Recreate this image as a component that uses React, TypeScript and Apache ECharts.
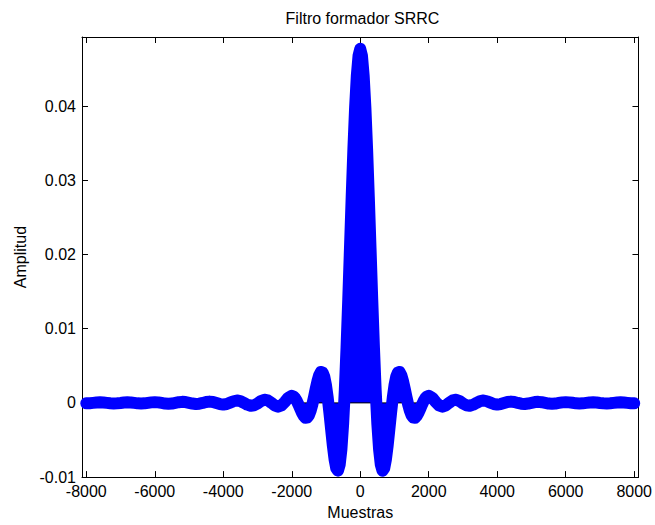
import React, { useEffect, useRef } from 'react';
import * as echarts from 'echarts';

// Sample index (x) of each read-off point of the SRRC pulse
const samples = [
  -8000, -7900, -7800, -7700, -7600, -7500, -7400, -7300, -7200, -7100,
  -7000, -6900, -6800, -6700, -6600, -6500, -6400, -6300, -6200, -6100,
  -6000, -5900, -5800, -5700, -5600, -5500, -5400, -5300, -5200, -5100,
  -5000, -4900, -4800, -4700, -4600, -4500, -4400, -4300, -4200, -4100,
  -4000, -3900, -3800, -3700, -3600, -3500, -3400, -3300, -3200, -3100,
  -3000, -2900, -2800, -2700, -2600, -2500, -2400, -2300, -2200, -2100,
  -2000, -1950, -1900, -1850, -1800, -1750, -1700, -1650, -1600, -1550,
  -1500, -1450, -1400, -1350, -1300, -1250, -1200, -1150, -1100, -1050,
  -1000, -950, -900, -850, -800, -750, -700, -650, -600, -550,
  -500, -450, -400, -350, -300, -250, -200, -150, -100, -50,
  0,
  50, 100, 150, 200, 250, 300, 350, 400, 450, 500,
  550, 600, 650, 700, 750, 800, 850, 900, 950, 1000,
  1050, 1100, 1150, 1200, 1250, 1300, 1350, 1400, 1450, 1500,
  1550, 1600, 1650, 1700, 1750, 1800, 1850, 1900, 1950, 2000,
  2100, 2200, 2300, 2400, 2500, 2600, 2700, 2800, 2900, 3000,
  3100, 3200, 3300, 3400, 3500, 3600, 3700, 3800, 3900, 4000,
  4100, 4200, 4300, 4400, 4500, 4600, 4700, 4800, 4900, 5000,
  5100, 5200, 5300, 5400, 5500, 5600, 5700, 5800, 5900, 6000,
  6100, 6200, 6300, 6400, 6500, 6600, 6700, 6800, 6900, 7000,
  7100, 7200, 7300, 7400, 7500, 7600, 7700, 7800, 7900, 8000,
];

// Amplitude at each sample index
const amplitude = [
  -0.00006, -0.00004, 0, 0.00005, 0.00007, 0.00005, 0, -0.00005, -0.00007, -0.00005,
  -0.00001, 0.00005, 0.00007, 0.00006, 0, -0.00006, -0.00008, -0.00006, 0.00001, 0.00007,
  0.0001, 0.00007, -0.00001, -0.00009, -0.00012, -0.00009, 0, 0.00009, 0.00014, 0.00011,
  0.00001, -0.00009, -0.00015, -0.00011, -0.00001, 0.00011, 0.00017, 0.00012, -0.00002, -0.00016,
  -0.00023, -0.00015, 0.00003, 0.00022, 0.00032, 0.00024, 0.00001, -0.00024, -0.00039, -0.00032,
  -0.00007, 0.00024, 0.00042, 0.00034, 0.00003, -0.00034, -0.00052, -0.00035, 0.00014, 0.0007,
  0.00095, 0.00086, 0.00062, 0.00023, -0.00027, -0.00082, -0.00134, -0.00176, -0.002, -0.00198,
  -0.00168, -0.00108, -0.00023, 0.0008, 0.00189, 0.00292, 0.00372, 0.00416, 0.00412, 0.00352,
  0.00237, 0.0007, -0.00135, -0.00358, -0.00576, -0.0076, -0.00881, -0.00913, -0.00832, -0.00625,
  -0.00287, 0.00175, 0.00746, 0.01394, 0.02085, 0.02776, 0.03422, 0.03979, 0.04407, 0.04677,
  0.0477,
  0.04677, 0.04407, 0.03979, 0.03422, 0.02776, 0.02085, 0.01394, 0.00746, 0.00175, -0.00287,
  -0.00625, -0.00832, -0.00913, -0.00881, -0.0076, -0.00576, -0.00358, -0.00135, 0.0007, 0.00237,
  0.00352, 0.00412, 0.00416, 0.00372, 0.00292, 0.00189, 0.0008, -0.00023, -0.00108, -0.00168,
  -0.00198, -0.002, -0.00176, -0.00134, -0.00082, -0.00027, 0.00023, 0.00062, 0.00086, 0.00095,
  0.0007, 0.00014, -0.00035, -0.00052, -0.00034, 0.00003, 0.00034, 0.00042, 0.00024, -0.00007,
  -0.00032, -0.00039, -0.00024, 0.00001, 0.00024, 0.00032, 0.00022, 0.00003, -0.00015, -0.00023,
  -0.00016, -0.00002, 0.00012, 0.00017, 0.00011, -0.00001, -0.00011, -0.00015, -0.00009, 0.00001,
  0.00011, 0.00014, 0.00009, 0, -0.00009, -0.00012, -0.00009, -0.00001, 0.00007, 0.0001,
  0.00007, 0.00001, -0.00006, -0.00008, -0.00006, 0, 0.00006, 0.00007, 0.00005, -0.00001,
  -0.00005, -0.00007, -0.00005, 0, 0.00005, 0.00007, 0.00005, 0, -0.00004, -0.00006,
];

const xTicks = [-8000, -6000, -4000, -2000, 0, 2000, 4000, 6000, 8000];
const yTicks = [-0.01, 0, 0.01, 0.02, 0.03, 0.04];
const xRange = [-8125, 8125];
const yRange = [-0.01, 0.0493];

const titleText = 'Filtro formador SRRC';
const xName = 'Muestras';
const yName = 'Amplitud';

export default function App() {
  const ref = useRef<HTMLDivElement>(null);

  useEffect(() => {
    const chart = echarts.init(ref.current!, null, { renderer: 'svg' });
    const font = '"Liberation Sans", Arial, Helvetica, sans-serif';
    const data = samples.map((s, i) => [s, amplitude[i]]);
    const frame = { show: true, onZero: false, lineStyle: { color: '#000', width: 1 } };
    const tickX = { show: true, inside: true, length: 6, customValues: xTicks, lineStyle: { color: '#000' } };
    const tickY = { show: true, inside: true, length: 6, customValues: yTicks, lineStyle: { color: '#000' } };
    const labelStyle = { color: '#000', fontSize: 16, fontFamily: font };
    const plain = (v: number) => String(v);

    chart.setOption({
      animation: false,
      backgroundColor: '#ffffff',
      grid: { left: 82, right: 12, top: 37, bottom: 46, containLabel: false },
      graphic: [
        {
          type: 'text',
          x: 362.5,
          y: 10,
          style: { text: titleText, fill: '#000', font: `16px ${font}`, textAlign: 'center', textVerticalAlign: 'top' },
        },
      ],
      xAxis: [
        {
          type: 'value', position: 'bottom', min: xRange[0], max: xRange[1],
          axisLine: frame, axisTick: tickX,
          axisLabel: { ...labelStyle, customValues: xTicks, margin: 6, formatter: plain },
          splitLine: { show: false },
          name: xName, nameLocation: 'middle', nameGap: 25,
          nameTextStyle: { ...labelStyle },
        },
        {
          type: 'value', position: 'top', min: xRange[0], max: xRange[1],
          axisLine: frame, axisTick: tickX,
          axisLabel: { show: false }, splitLine: { show: false },
        },
      ],
      yAxis: [
        {
          type: 'value', position: 'left', min: yRange[0], max: yRange[1],
          axisLine: frame, axisTick: tickY,
          axisLabel: { ...labelStyle, customValues: yTicks, margin: 6, formatter: plain },
          splitLine: { show: false },
          name: yName, nameLocation: 'middle', nameGap: 52,
          nameTextStyle: { ...labelStyle },
        },
        {
          type: 'value', position: 'right', min: yRange[0], max: yRange[1],
          axisLine: frame, axisTick: tickY,
          axisLabel: { show: false }, splitLine: { show: false },
        },
      ],
      series: [
        {
          type: 'line', name: 'stems', data, showSymbol: false, silent: true, z: 1,
          lineStyle: { width: 0, color: '#0000ff' },
          areaStyle: { color: '#0000ff', opacity: 1 },
        },
        {
          type: 'line', name: 'baseline', data: [[xRange[0], 0], [xRange[1], 0]],
          showSymbol: false, silent: true, z: 2,
          lineStyle: { width: 1, color: '#000' },
        },
        {
          type: 'line', name: 'pulse', data, showSymbol: false, silent: true, z: 3,
          lineStyle: { width: 12, color: '#0000ff', cap: 'round', join: 'round' },
        },
      ],
    });

    return () => chart.dispose();
  }, []);

  return (
    <div
      ref={ref}
      style={{ position: 'fixed', left: 0, top: 0, width: 655, height: 525, background: '#fff' }}
    />
  );
}
